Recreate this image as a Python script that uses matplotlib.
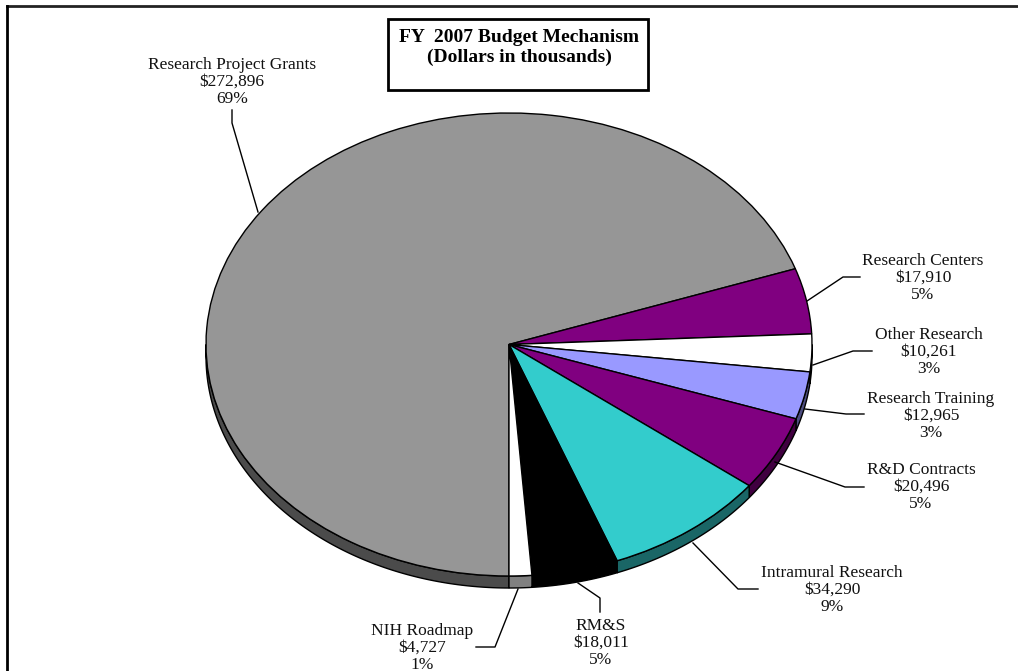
import matplotlib
matplotlib.use("Agg")
import matplotlib.pyplot as plt
from matplotlib.patches import Rectangle, Polygon
import numpy as np

plt.rcParams["font.family"] = ["Liberation Serif", "DejaVu Serif"]

# data (dollars in thousands)
categories = ["Research Project Grants", "Research Centers", "Other Research",
              "Research Training", "R&D Contracts", "Intramural Research",
              "RM&S", "NIH Roadmap"]
values = [272896, 17910, 10261, 12965, 20496, 34290, 18011, 4727]
pct_labels = ["69%", "5%", "3%", "3%", "5%", "9%", "5%", "1%"]

top_colors = ["#969696", "#800080", "#ffffff", "#9999ff",
              "#800080", "#33cccc", "#000000", "#ffffff"]
side_colors = ["#4b4b4b", "#400040", "#808080", "#4d4d80",
               "#400040", "#1a6666", "#000000", "#808080"]

W, H = 1018, 671
cx, cy = 509, 344.5      # pie centre in pixels
rx, ry = 303, 231.5      # ellipse half-axes in pixels
depth = 12 / ry

fig = plt.figure(figsize=(W / 100, H / 100), dpi=100)

# NOTE : pie axes, squashed so the circle becomes an ellipse
ax = fig.add_axes([0, 0, 1, 1])
wedges, _ = ax.pie(values, colors=top_colors, startangle=-90, counterclock=False,
                   radius=1, wedgeprops=dict(edgecolor="black", linewidth=1))
for w in wedges:
    w.set_zorder(3)
ax.set_aspect("auto")
ax.set_xlim(-cx / rx, (W - cx) / rx)
ax.set_ylim(-(H - cy) / ry, cy / ry)
ax.axis("off")

# NOTE : side wall of the 3d pie, only the front half is visible
for w, sc in zip(wedges, side_colors):
    a, b = w.theta1, w.theta2
    for lo, hi in [(-540, -360), (-180, 0), (180, 360)]:
        s, e = max(a, lo), min(b, hi)
        if e <= s:
            continue
        t = np.radians(np.linspace(s, e, 120))
        upper = np.column_stack([np.cos(t), np.sin(t)])
        lower = np.column_stack([np.cos(t[::-1]), np.sin(t[::-1]) - depth])
        ax.add_patch(Polygon(np.vstack([upper, lower]), closed=True,
                             facecolor=sc, edgecolor="black", linewidth=1, zorder=2))

# NOTE : overlay axes in pixel coordinates for text and leader lines
lx = fig.add_axes([0, 0, 1, 1], facecolor="none")
lx.set_xlim(0, W)
lx.set_ylim(H, 0)
lx.axis("off")

# frame
lx.plot([7, W], [5.5, 5.5], color="#222222", lw=2)
lx.plot([7, 7], [5.5, H], color="black", lw=2)

# title box
lx.add_patch(Rectangle((388, 19), 260, 71, fill=False, edgecolor="black", lw=2))
lx.text(519, 38, "FY  2007 Budget Mechanism", ha="center", va="center",
        fontsize=14, fontweight="bold")
lx.text(519, 57, "(Dollars in thousands)", ha="center", va="center",
        fontsize=14, fontweight="bold")

# label centre x and first line centre y (pixels)
label_pos = [(232, 65), (923, 261), (929, 335), (931, 399),
             (921, 470), (832, 573), (601, 626), (422, 631)]
leaders = [
    [(258, 212), (232, 123), (232, 110)],
    [(807, 301), (843, 277), (860, 277)],
    [(813, 365), (853, 351), (872, 351)],
    [(805, 409), (846, 414), (864, 414)],
    [(775, 462), (845, 487), (864, 487)],
    [(693, 543), (738, 589), (758, 589)],
    [(578, 583), (600, 598), (600, 612)],
    [(518, 589), (495, 647), (476, 647)],
]

for name, v, p, (tx, ty), ld in zip(categories, values, pct_labels, label_pos, leaders):
    for i, line in enumerate([name, f"${v:,}", p]):
        lx.text(tx, ty + 17 * i, line, ha="center", va="center",
                fontsize=12.5, color="#111111")
    xs, ys = zip(*ld)
    lx.plot(xs, ys, color="black", lw=1)

fig.savefig("out.png", dpi=100)
